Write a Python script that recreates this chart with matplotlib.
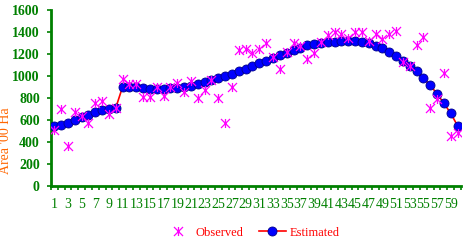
import numpy as np
import matplotlib
matplotlib.use("Agg")
import matplotlib.pyplot as plt
from matplotlib.path import Path

# year index 1..60
periods = list(range(1, 61))

observed = [509, 700, 366, 670, 639, 570, 752, 773, 652, 706,
            973, 924, 924, 806, 806, 903, 818, 903, 939, 857,
            957, 797, 873, 964, 797, 570, 900, 1238, 1244, 1210,
            1248, 1303, 1176, 1064, 1215, 1303, 1276, 1155, 1206, 1306,
            1373, 1403, 1379, 1348, 1403, 1397, 1321, 1379, 1333, 1379,
            1409, 1130, 1094, 1278, 1352, 712, 795, 1030, 455, 485]

estimated = [545, 552, 573, 597, 624, 645, 670, 688, 703, 712,
             903, 897, 897, 888, 885, 882, 882, 888, 894, 903,
             912, 927, 942, 961, 979, 1000, 1021, 1043, 1066, 1088,
             1115, 1139, 1164, 1188, 1212, 1233, 1257, 1279, 1291, 1300,
             1306, 1309, 1315, 1315, 1315, 1309, 1297, 1276, 1252, 1221,
             1185, 1139, 1091, 1042, 982, 915, 839, 752, 661, 548]

GREEN = "#008000"

star = Path([(0, -1), (0, 1), (-1, -1), (1, 1), (-1, 1), (1, -1)],
            [Path.MOVETO, Path.LINETO, Path.MOVETO, Path.LINETO, Path.MOVETO, Path.LINETO])

plt.rcParams["font.family"] = ["Liberation Serif", "DejaVu Serif"]

fig = plt.figure(figsize=(4.67, 2.43), dpi=100)
ax = fig.add_axes([0.109, 0.2346, 0.878, 0.7245])

ax.plot(periods, observed, linestyle="none", marker=star, markersize=6.5,
        markerfacecolor="none", markeredgecolor="#FF00FF", markeredgewidth=0.9,
        label="Observed", zorder=4)
ax.plot(periods, estimated, color="red", lw=1.2, marker="o", markersize=6.5,
        markerfacecolor="#0000FF", markeredgecolor="#00008B", markeredgewidth=0.6,
        label="Estimated", zorder=3)

ax.set_xlim(0.5, 60.5)
ax.set_ylim(0, 1600)
ax.set_yticks(np.arange(0, 1601, 200))
ax.set_xticks(periods[::2])
ax.set_xticks(np.arange(0.5, 61, 1), minor=True)
ax.tick_params(axis="x", which="major", length=0, pad=9, labelsize=10, labelcolor=GREEN)
ax.tick_params(axis="x", which="minor", length=3, width=1.2, color=GREEN)
ax.tick_params(axis="y", length=3, width=1.2, color=GREEN, labelsize=10, labelcolor=GREEN, pad=5)
for lab in ax.get_yticklabels():
    lab.set_fontweight("bold")

for s in ["top", "right"]:
    ax.spines[s].set_visible(False)
for s in ["left", "bottom"]:
    ax.spines[s].set_color(GREEN)
    ax.spines[s].set_linewidth(2)

ax.set_ylabel("Area '00 Ha", color="#FF6600", fontsize=10)
ax.yaxis.set_label_coords(-0.095, 0.26)

leg = fig.legend(loc="center", bbox_to_anchor=(0.54, 0.042), ncol=2, frameon=False,
                 fontsize=9, handlelength=2.2, columnspacing=1.2, handletextpad=0.3)
for t in leg.get_texts():
    t.set_color("red")

fig.savefig("out.png", dpi=100)
